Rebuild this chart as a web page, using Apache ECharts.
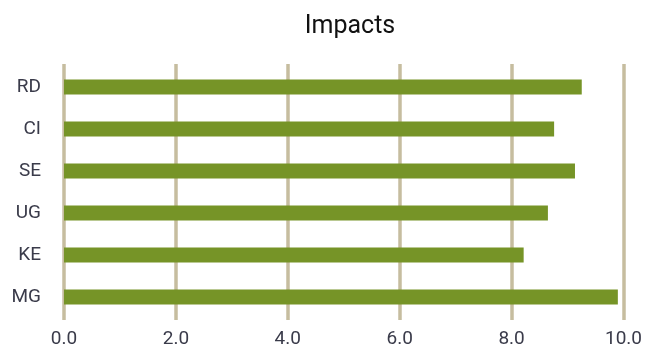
<!DOCTYPE html>
<html>
<head>
<meta charset="utf-8">
<script src="https://cdn.jsdelivr.net/npm/echarts@6/dist/echarts.min.js"></script>
<style>html,body{margin:0;padding:0;background:#fff;}#c{width:645px;height:349px;}</style>
</head>
<body>
<div id="c"></div>
<script>
const categories = ['RD', 'CI', 'SE', 'UG', 'KE', 'MG'];
const impacts = [9.18, 8.69, 9.06, 8.58, 8.15, 9.82];
const xTicks = [0, 2, 4, 6, 8, 10];

const chart = echarts.init(document.getElementById('c'), null, {renderer: 'canvas'});
const labelColor = '#3a3b4a';
const font = 'Roboto';
chart.setOption({
  animation: false,
  backgroundColor: '#ffffff',
  title: {
    text: 'Impacts',
    left: 345,
    textAlign: 'center',
    top: 9,
    textStyle: {fontFamily: font, fontSize: 25, fontWeight: 'normal', color: '#111111'}
  },
  grid: [
    {left: 64, right: 17, top: 66, height: 252},
    {left: 64, right: 17, top: 64, bottom: 24}
  ],
  xAxis: [
    {gridIndex: 0, type: 'value', min: 0, max: 10, interval: 2, show: false},
    {gridIndex: 1, type: 'value', min: xTicks[0], max: xTicks[xTicks.length - 1], interval: 2,
     axisLine: {show: false}, axisTick: {show: false},
     splitLine: {show: true, lineStyle: {color: '#c6bd9f', width: 3.5}},
     axisLabel: {margin: 10, fontFamily: font, fontSize: 19, color: labelColor,
       formatter: v => v.toFixed(1)}}
  ],
  yAxis: [
    {gridIndex: 0, type: 'category', data: categories, inverse: true,
     axisLine: {show: false}, axisTick: {show: false}, splitLine: {show: false},
     axisLabel: {margin: 23, fontFamily: font, fontSize: 19, color: labelColor}},
    {gridIndex: 1, type: 'value', min: 0, max: 1, show: false}
  ],
  series: [{
    type: 'bar',
    xAxisIndex: 0, yAxisIndex: 0,
    data: impacts,
    barWidth: 15,
    itemStyle: {color: '#769427'}
  }]
});
</script>
</body>
</html>
